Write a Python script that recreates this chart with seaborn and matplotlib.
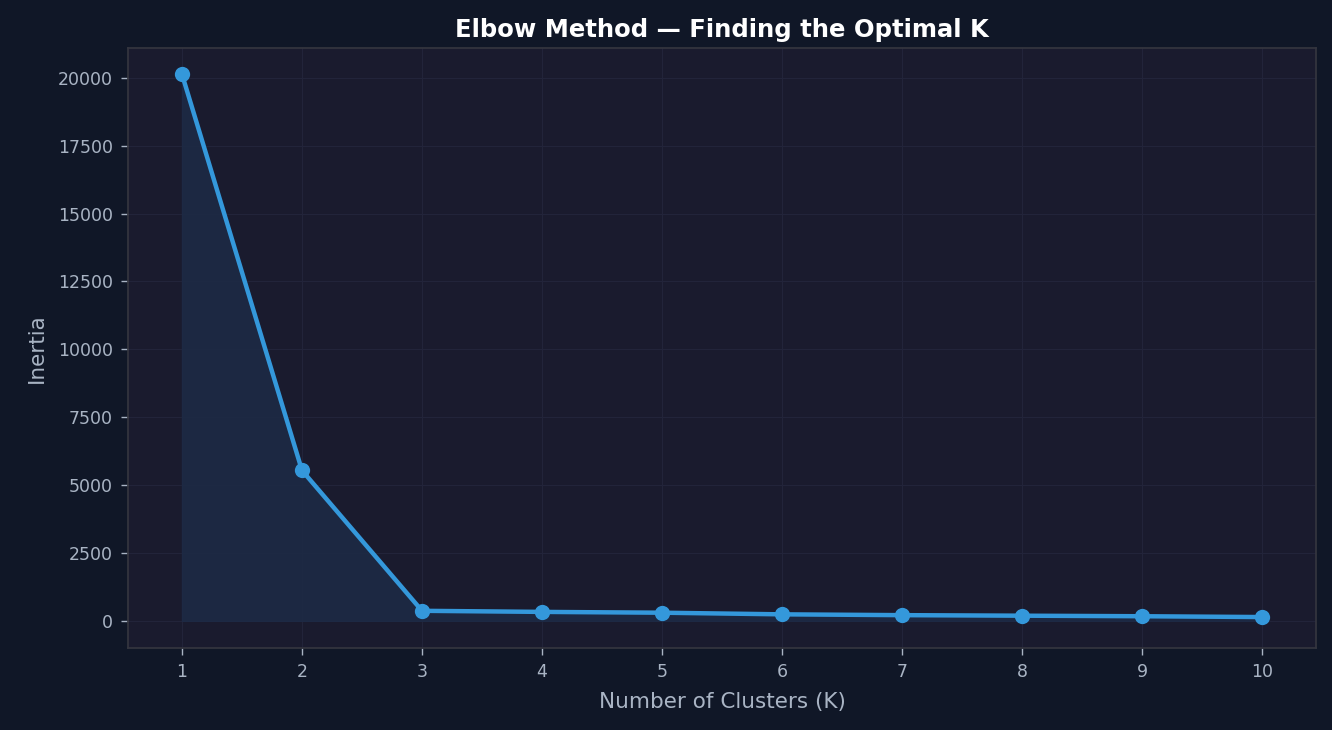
import matplotlib
matplotlib.use("Agg")
import matplotlib.pyplot as plt
import seaborn as sns
import pandas as pd

k_values = [1, 2, 3, 4, 5, 6, 7, 8, 9, 10]
inertia = [20130, 5540, 370, 330, 300, 240, 210, 190, 170, 140]

sns.set_theme(style="dark")
plt.rcParams['font.family'] = ['DejaVu Sans']

df = pd.DataFrame({"K": k_values, "Inertia": inertia})
fig = plt.figure(figsize=(13.32, 7.3), dpi=100, facecolor="#101727")
ax = fig.add_axes([128/1332, 1-648/730, (1316-128)/1332, (648-48)/730])
ax.set_facecolor("#1a1b2e")
ax.fill_between(df["K"], df["Inertia"], color="#1d2a45", alpha=0.9, zorder=1)
sns.lineplot(data=df, x="K", y="Inertia", ax=ax, color="#3498db", linewidth=3.2,
             marker="o", markersize=11, markeredgewidth=0, zorder=3)
ax.set_xticks(k_values)
ax.set_ylim(-1000, 21100)
ax.set_xlim(0.55, 10.45)
ax.grid(True, color="#22243a", linewidth=0.8)
for s in ax.spines.values():
    s.set_color("#34353f")
ax.tick_params(colors="#a9b4c4", labelsize=12.5, length=5, width=1, color="#a9b4c4",
               bottom=True, left=True, pad=6)
ax.set_xlabel("Number of Clusters (K)", color="#a9b4c4", fontsize=15.5, labelpad=8)
ax.set_ylabel("Inertia", color="#a9b4c4", fontsize=15.5, labelpad=8)
ax.set_title("Elbow Method — Finding the Optimal K", color="white", fontsize=17.5,
             fontweight="bold", pad=8)
fig.savefig("out.png", dpi=100, facecolor=fig.get_facecolor())
